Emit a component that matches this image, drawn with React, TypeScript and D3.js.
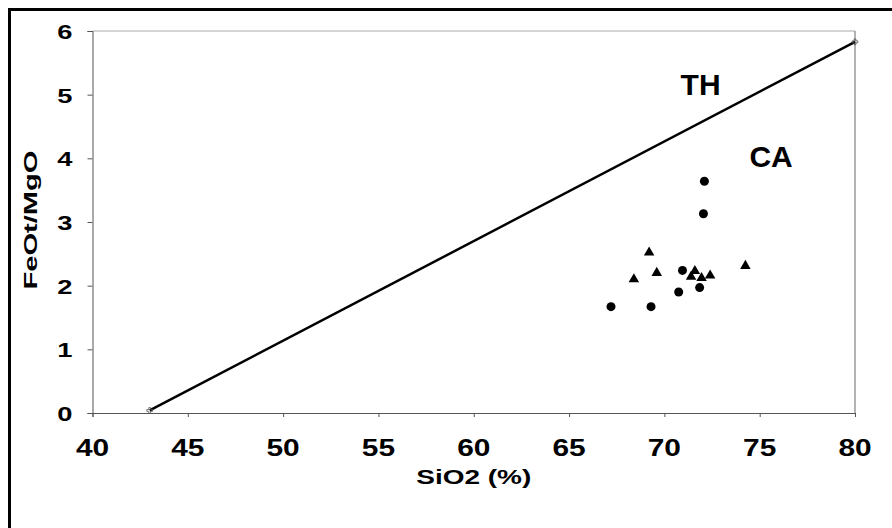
import { useEffect, useRef } from 'react'
import * as d3 from 'd3'

// SiO2 (%) vs FeOt/MgO
const circleSiO2 = [72.1, 72.05, 70.95, 70.75, 71.85, 67.2, 69.3]
const circleRatio = [3.64, 3.13, 2.24, 1.9, 1.97, 1.67, 1.67]

const triangleSiO2 = [69.2, 68.4, 69.6, 71.4, 71.6, 71.95, 72.4, 74.25]
const triangleRatio = [2.52, 2.1, 2.2, 2.14, 2.23, 2.12, 2.16, 2.31]

// TH / CA dividing line (Miyashiro)
const lineSiO2 = [43, 80]
const lineRatio = [0.04, 5.83]

const xTicks = [40, 45, 50, 55, 60, 65, 70, 75, 80]
const yTicks = [0, 1, 2, 3, 4, 5, 6]

const W = 892
const H = 528
const margin = { top: 31, right: 37, bottom: 115, left: 92.5 }
const font = "'Liberation Sans', Arial, sans-serif"

export default function App() {
  const svgRef = useRef<SVGSVGElement>(null)

  useEffect(() => {
    if (!svgRef.current) return
    const svg = d3.select(svgRef.current)
    svg.selectAll('*').remove()

    const x = d3.scaleLinear().domain([40, 80]).range([margin.left, W - margin.right])
    const y = d3.scaleLinear().domain([0, 6]).range([H - margin.bottom, margin.top])

    svg.append('rect').attr('width', W).attr('height', H).attr('fill', '#fff')

    // outer frame (only top and left visible)
    svg.append('line')
      .attr('x1', 9.5).attr('x2', W).attr('y1', 9.5).attr('y2', 9.5)
      .attr('stroke', '#000').attr('stroke-width', 3)
    svg.append('line')
      .attr('x1', 9.5).attr('x2', 9.5).attr('y1', 8).attr('y2', H)
      .attr('stroke', '#000').attr('stroke-width', 3)

    // plot frame
    const [x0, x1] = x.range()
    const [y0, y1] = y.range()
    svg.append('line').attr('x1', x0).attr('x2', x1).attr('y1', y1).attr('y2', y1)
      .attr('stroke', '#aaa').attr('stroke-width', 1)
    svg.append('line').attr('x1', x1).attr('x2', x1).attr('y1', y1).attr('y2', y0)
      .attr('stroke', '#666').attr('stroke-width', 1)

    // axes
    const xAxis = svg.append('g')
      .attr('transform', `translate(0,${y0})`)
      .call(d3.axisBottom(x).tickValues(xTicks).tickSize(4).tickFormat(() => ''))
    xAxis.select('.domain').attr('stroke', '#555')
    xAxis.selectAll('.tick line').attr('stroke', '#555')

    const yAxis = svg.append('g')
      .attr('transform', `translate(${x0},0)`)
      .call(d3.axisLeft(y).tickValues(yTicks).tickSize(5).tickFormat(() => ''))
    yAxis.select('.domain').attr('stroke', '#555')
    yAxis.selectAll('.tick line').attr('stroke', '#555')

    // tick labels
    svg.append('g').selectAll('text')
      .data(xTicks)
      .enter()
      .append('text')
      .attr('transform', d => `translate(${x(d)},${y0 + 43}) scale(1.3,1)`)
      .attr('text-anchor', 'middle')
      .attr('font-family', font)
      .attr('font-weight', 'bold')
      .attr('font-size', 23)
      .text(d => d)

    svg.append('g').selectAll('text')
      .data(yTicks)
      .enter()
      .append('text')
      .attr('transform', d => `translate(${x0 - 20},${y(d) + 8}) scale(1.3,1)`)
      .attr('text-anchor', 'end')
      .attr('font-family', font)
      .attr('font-weight', 'bold')
      .attr('font-size', 21)
      .text(d => d)

    // axis titles
    svg.append('text')
      .attr('x', (x0 + x1) / 2)
      .attr('y', y0 + 71)
      .attr('text-anchor', 'middle')
      .attr('font-family', font)
      .attr('font-weight', 'bold')
      .attr('font-size', 21)
      .attr('textLength', 115)
      .attr('lengthAdjust', 'spacingAndGlyphs')
      .text('SiO2 (%)')

    svg.append('text')
      .attr('transform', `translate(37,${(y0 + y1) / 2 - 2}) rotate(-90)`)
      .attr('text-anchor', 'middle')
      .attr('font-family', font)
      .attr('font-weight', 'bold')
      .attr('font-size', 19)
      .attr('textLength', 139)
      .attr('lengthAdjust', 'spacingAndGlyphs')
      .text('FeOt/MgO')

    // dividing line
    const linePts: [number, number][] = lineSiO2.map((s, i) => [s, lineRatio[i]])
    svg.append('path')
      .attr('d', d3.line<[number, number]>().x(d => x(d[0])).y(d => y(d[1]))(linePts))
      .attr('fill', 'none')
      .attr('stroke', '#000')
      .attr('stroke-width', 2.5)

    svg.append('g').selectAll('path')
      .data(linePts)
      .enter()
      .append('path')
      .attr('d', d3.symbol(d3.symbolCross, 18)())
      .attr('transform', d => `translate(${x(d[0])},${y(d[1])})`)
      .attr('fill', 'none')
      .attr('stroke', '#555')
      .attr('stroke-width', 0.8)

    // field labels
    svg.append('text')
      .attr('x', x(71.9)).attr('y', y(5.0))
      .attr('text-anchor', 'middle')
      .attr('font-family', font).attr('font-weight', 'bold').attr('font-size', 30)
      .text('TH')
    svg.append('text')
      .attr('x', x(75.6)).attr('y', y(3.86))
      .attr('text-anchor', 'middle')
      .attr('font-family', font).attr('font-weight', 'bold').attr('font-size', 30)
      .text('CA')

    // samples
    svg.append('g').selectAll('circle')
      .data(circleSiO2.map((s, i) => [s, circleRatio[i]]))
      .enter()
      .append('circle')
      .attr('cx', d => x(d[0]))
      .attr('cy', d => y(d[1]))
      .attr('r', 4.5)
      .attr('fill', '#000')

    svg.append('g').selectAll('path')
      .data(triangleSiO2.map((s, i) => [s, triangleRatio[i]]))
      .enter()
      .append('path')
      .attr('d', d3.symbol(d3.symbolTriangle, 48)())
      .attr('transform', d => `translate(${x(d[0])},${y(d[1])})`)
      .attr('fill', '#000')
  }, [])

  return (
    <svg
      ref={svgRef}
      width={W}
      height={H}
      style={{ position: 'absolute', left: 0, top: 0 }}
    />
  )
}
